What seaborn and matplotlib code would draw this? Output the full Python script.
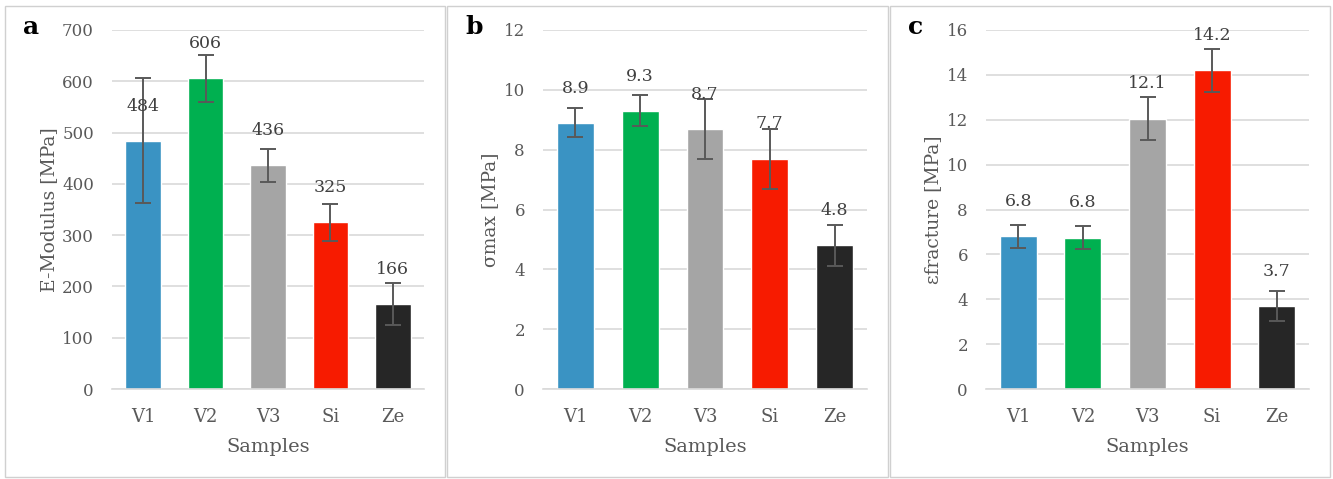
import numpy as np
import pandas as pd
import matplotlib.pyplot as plt
import seaborn as sns
from matplotlib.patches import Rectangle

samples = ["V1", "V2", "V3", "Si", "Ze"]
colors = ["#3A93C3", "#00B050", "#A5A5A5", "#F71B00", "#262626"]

e_mod = [484, 606, 436, 325, 166]
e_mod_err = [122, 46, 32, 36, 41]

s_max = [8.9, 9.3, 8.7, 7.7, 4.8]
s_max_err = [0.48, 0.52, 1.0, 1.0, 0.68]

e_frac = [6.8, 6.75, 12.05, 14.2, 3.7]
e_frac_err = [0.5, 0.52, 0.97, 0.97, 0.65]
e_frac_lbl = ["6.8", "6.8", "12.1", "14.2", "3.7"]

sns.set_style("white")
plt.rcParams['font.family'] = ['DejaVu Serif']

W, H = 1333, 479
fig = plt.figure(figsize=(W / 100, H / 100), dpi=100)

panels = [
    ("a", e_mod, e_mod_err, [str(v) for v in e_mod], "E-Modulus [MPa]", 700, 100, (112, 424)),
    ("b", s_max, s_max_err, [f"{v:.1f}" for v in s_max], "σmax [MPa]", 12, 2, (543, 867)),
    ("c", e_frac, e_frac_err, e_frac_lbl, "εfracture [MPa]", 16, 2, (986, 1309)),
]
boxes = [(5, 445), (447, 888), (890, 1330)]

for (letter, vals, errs, lbls, ylab, ymax, step, (x0, x1)), (b0, b1) in zip(panels, boxes):
    fig.add_artist(Rectangle((b0 / W, 2 / H), (b1 - b0) / W, (H - 8) / H,
                             transform=fig.transFigure, fill=False,
                             edgecolor="#D0D0D0", linewidth=1))
    top, bot = 30, 389
    ax = fig.add_axes([x0 / W, 1 - bot / H, (x1 - x0) / W, (bot - top) / H])
    df = pd.DataFrame({"Samples": samples, "val": vals})
    sns.barplot(data=df, x="Samples", y="val", hue="Samples", palette=colors,
                legend=False, width=0.57, ax=ax, saturation=1)
    ax.errorbar(np.arange(len(samples)), vals, yerr=errs, fmt="none",
                ecolor="#595959", elinewidth=1.4, capsize=6, capthick=1.4)
    for i, (v, t) in enumerate(zip(vals, lbls)):
        ax.annotate(t, (i, v), xytext=(0, 25), textcoords="offset points",
                    ha="center", va="center", fontsize=12.5, color="#404040")
    ax.set_ylim(0, ymax)
    ax.set_yticks(np.arange(0, ymax + step / 2, step))
    ax.set_xlim(-0.5, len(samples) - 0.5)
    ax.yaxis.grid(True, color="#D9D9D9", linewidth=1.2)
    ax.set_axisbelow(True)
    for s in ["top", "right", "left"]:
        ax.spines[s].set_visible(False)
    ax.spines["bottom"].set_color("#D9D9D9")
    ax.spines["bottom"].set_linewidth(1.2)
    ax.tick_params(axis="y", length=0, labelsize=12, colors="#595959", pad=13)
    ax.tick_params(axis="x", length=0, labelsize=13, colors="#595959", pad=14)
    ax.set_xlabel("Samples", fontsize=14, color="#595959", labelpad=8)
    ax.set_ylabel(ylab, fontsize=13.5, color="#595959", labelpad=3)
    fig.text((b0 + 18) / W, 1 - 27 / H, letter, fontsize=18, fontweight="bold",
             va="center", ha="left", color="black")

fig.savefig("out.png", dpi=100)
